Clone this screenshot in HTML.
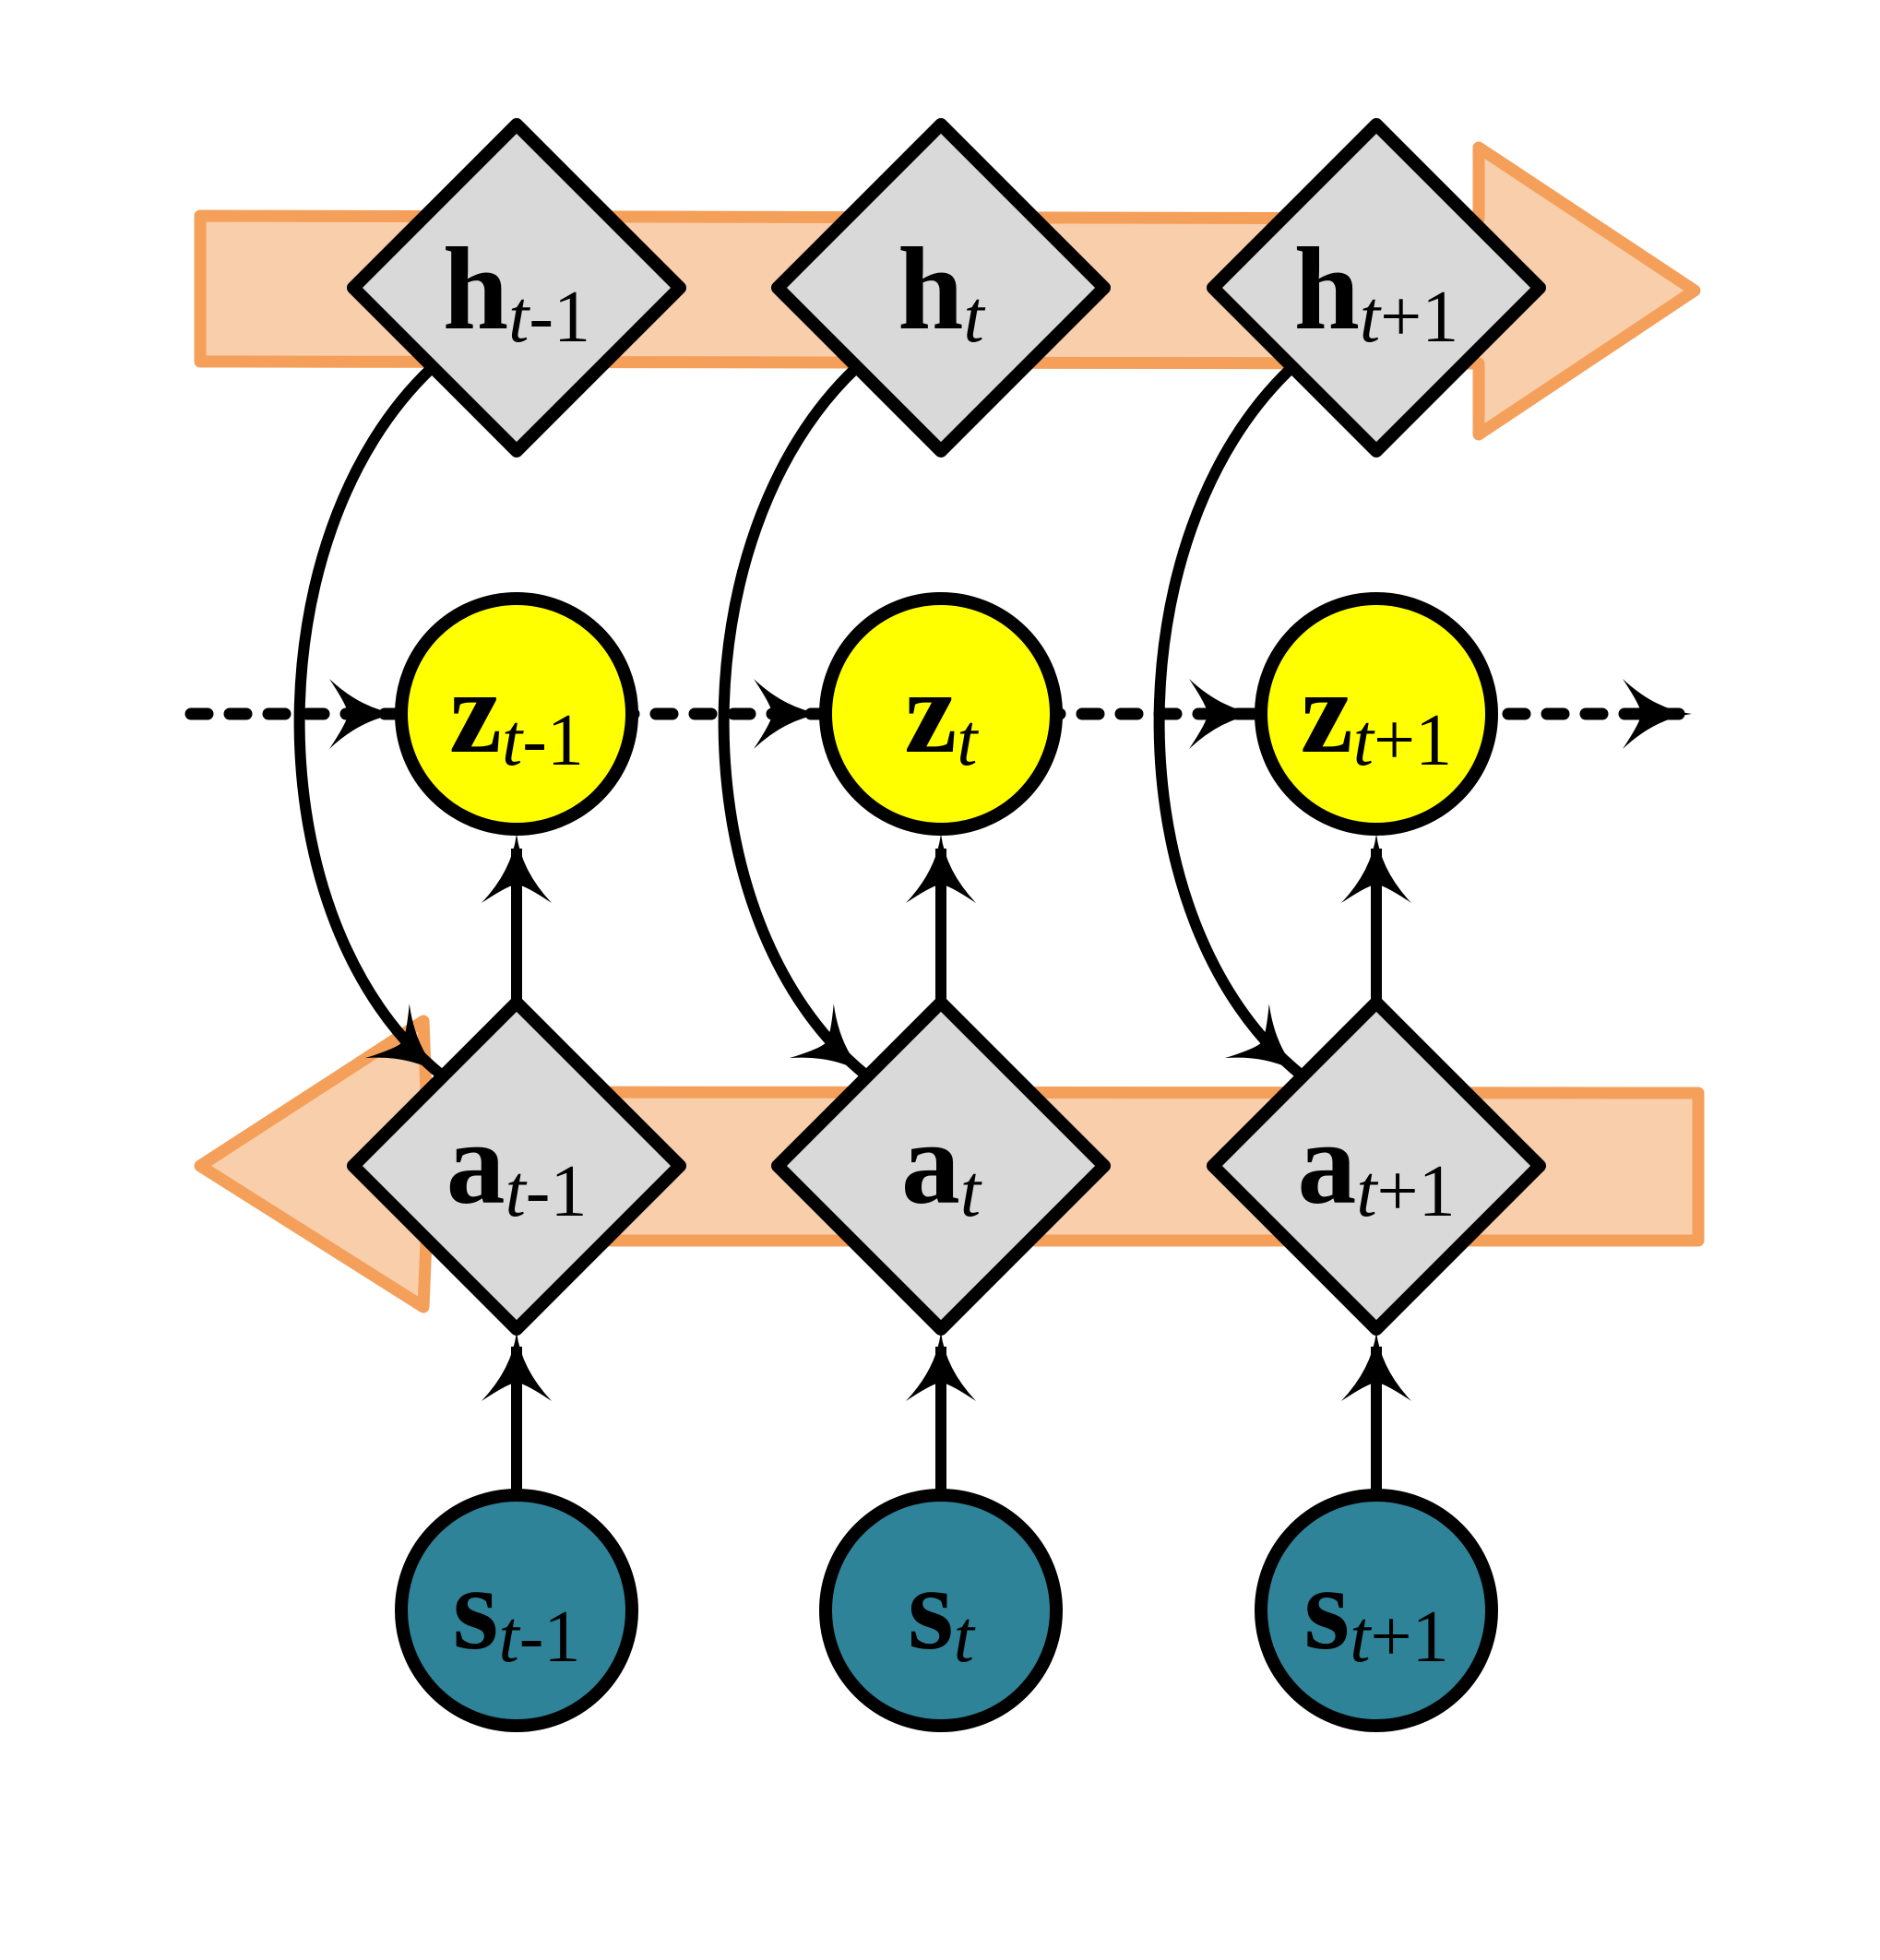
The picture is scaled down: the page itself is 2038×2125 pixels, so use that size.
<!DOCTYPE html>
<html><head><meta charset="utf-8"><style>html,body{margin:0;padding:0;background:#fff}svg{display:block}</style></head>
<body>
<svg width="2038" height="2125" viewBox="0 0 2038 2125" xmlns="http://www.w3.org/2000/svg">
<defs>
<marker id="ah" markerUnits="userSpaceOnUse" markerWidth="100" markerHeight="100" viewBox="-90 -50 100 100" refX="0" refY="0" orient="auto">
<path d="M0,0 Q-40,5 -75,38 Q-55,8 -55,0 Q-55,-8 -75,-38 Q-40,-5 0,0 Z" fill="#000"/>
</marker>
<g id="ahg"><path d="M0,0 Q-40,5 -75,38 Q-55,8 -55,0 Q-55,-8 -75,-38 Q-40,-5 0,0 Z" fill="#000"/></g>
</defs>
<path d="M217,234 L1603,237 L1603,160 L1837,315 L1603,471 L1603,394 L217,392 Z" fill="#F9CEAB" stroke="#F4A05A" stroke-width="13" stroke-linejoin="round"/>
<path d="M1841,1185 L462,1184 L459,1107 L217,1264 L459,1417 L462,1345 L1841,1345 Z" fill="#F9CEAB" stroke="#F4A05A" stroke-width="13" stroke-linejoin="round"/>
<line x1="207" y1="774" x2="1820" y2="774" stroke="#000" stroke-width="13" stroke-dasharray="18 24" stroke-linecap="round"/>
<g transform="translate(432,774)"><use href="#ahg"/></g>
<g transform="translate(892,774)"><use href="#ahg"/></g>
<g transform="translate(1364,774)"><use href="#ahg"/></g>
<g transform="translate(1834,774)"><use href="#ahg"/></g>
<g id="col">
<path d="M469,398 C275,580 275,1000 478,1165" fill="none" stroke="#000" stroke-width="12" marker-end="url(#ah)"/>
<line x1="560" y1="1090" x2="560" y2="920" stroke="#000" stroke-width="12"/>
<g transform="translate(560,904) rotate(-90)"><use href="#ahg"/></g>
<line x1="560" y1="1620" x2="560" y2="1460" stroke="#000" stroke-width="12"/>
<g transform="translate(560,1444) rotate(-90)"><use href="#ahg"/></g>
</g>
<use href="#col" transform="translate(460,0)"/>
<use href="#col" transform="translate(932,0)"/>
<g stroke="#000" stroke-width="14" stroke-linejoin="round">
<path d="M560,135 L737,312 L560,489 L383,312 Z" fill="#D9D9D9"/>
<path d="M1020,135 L1197,312 L1020,489 L843,312 Z" fill="#D9D9D9"/>
<path d="M1492,135 L1669,312 L1492,489 L1315,312 Z" fill="#D9D9D9"/>
<path d="M560,1087 L737,1264 L560,1441 L383,1264 Z" fill="#D9D9D9"/>
<path d="M1020,1087 L1197,1264 L1020,1441 L843,1264 Z" fill="#D9D9D9"/>
<path d="M1492,1087 L1669,1264 L1492,1441 L1315,1264 Z" fill="#D9D9D9"/>
<circle cx="560" cy="774" r="125" fill="#FFFF00"/>
<circle cx="1020" cy="774" r="125" fill="#FFFF00"/>
<circle cx="1492" cy="774" r="125" fill="#FFFF00"/>
<circle cx="560" cy="1746" r="125" fill="#2E8399"/>
<circle cx="1020" cy="1746" r="125" fill="#2E8399"/>
<circle cx="1492" cy="1746" r="125" fill="#2E8399"/>
</g>
<g font-family="'Liberation Serif', serif" fill="#000" text-anchor="middle">
<text x="560" y="356" font-size="128" font-weight="bold">h<tspan font-size="80" font-weight="normal" dy="14"><tspan font-style="italic">t</tspan>-1</tspan></text>
<text x="1020" y="356" font-size="128" font-weight="bold">h<tspan font-size="80" font-weight="normal" dy="14" font-style="italic">t</tspan></text>
<text x="1492" y="356" font-size="128" font-weight="bold">h<tspan font-size="80" font-weight="normal" dy="14"><tspan font-style="italic">t</tspan>+1</tspan></text>
<text x="560" y="815" font-size="128" font-weight="bold">z<tspan font-size="80" font-weight="normal" dy="14"><tspan font-style="italic">t</tspan>-1</tspan></text>
<text x="1020" y="815" font-size="128" font-weight="bold">z<tspan font-size="80" font-weight="normal" dy="14" font-style="italic">t</tspan></text>
<text x="1492" y="815" font-size="128" font-weight="bold">z<tspan font-size="80" font-weight="normal" dy="14"><tspan font-style="italic">t</tspan>+1</tspan></text>
<text x="560" y="1304" font-size="128" font-weight="bold">a<tspan font-size="80" font-weight="normal" dy="14"><tspan font-style="italic">t</tspan>-1</tspan></text>
<text x="1020" y="1304" font-size="128" font-weight="bold">a<tspan font-size="80" font-weight="normal" dy="14" font-style="italic">t</tspan></text>
<text x="1492" y="1304" font-size="128" font-weight="bold">a<tspan font-size="80" font-weight="normal" dy="14"><tspan font-style="italic">t</tspan>+1</tspan></text>
<text x="560" y="1787" font-size="128" font-weight="bold">s<tspan font-size="80" font-weight="normal" dy="14"><tspan font-style="italic">t</tspan>-1</tspan></text>
<text x="1020" y="1787" font-size="128" font-weight="bold">s<tspan font-size="80" font-weight="normal" dy="14" font-style="italic">t</tspan></text>
<text x="1492" y="1787" font-size="128" font-weight="bold">s<tspan font-size="80" font-weight="normal" dy="14"><tspan font-style="italic">t</tspan>+1</tspan></text>
</g>
</svg>
</body></html>
